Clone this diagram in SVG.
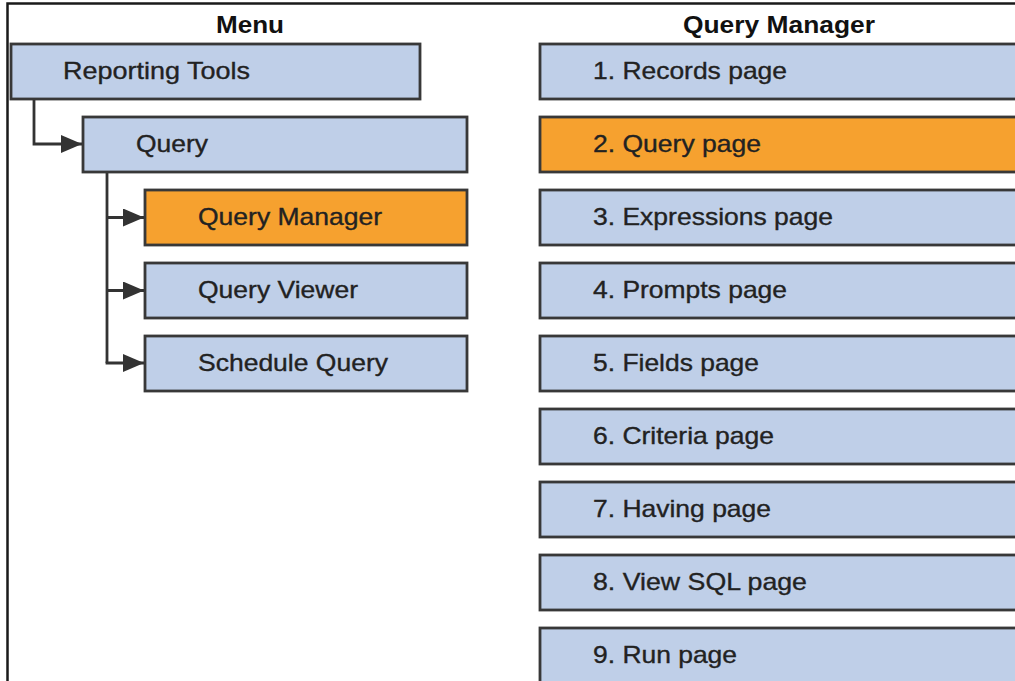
<svg xmlns="http://www.w3.org/2000/svg" width="1015" height="681" viewBox="0 0 1015 681">
<style>
.box{fill:#bfcfe8;stroke:#383838;stroke-width:2.8}
.hl{fill:#f6a12f;stroke:#383838;stroke-width:2.8}
.t{font-family:"Liberation Sans",Arial,sans-serif;font-size:24px;fill:#222;stroke:#222;stroke-width:0.35}
.h{font-family:"Liberation Sans",Arial,sans-serif;font-size:23.5px;font-weight:bold;fill:#111;text-anchor:middle}
.c{fill:none;stroke:#333;stroke-width:2.8}
</style>
<defs>
<marker id="arr" markerUnits="userSpaceOnUse" markerWidth="24" markerHeight="20" refX="21" refY="9" orient="auto">
<path d="M0,0 L21,9 L0,18 z" fill="#333"/>
</marker>
</defs>
<rect width="1015" height="681" fill="#fff"/>
<path d="M7.5,681 V3.5 H1015" fill="none" stroke="#1a1a1a" stroke-width="2.5"/>
<text class="h" x="250" y="33" textLength="68" lengthAdjust="spacingAndGlyphs">Menu</text>
<text class="h" x="779" y="33" textLength="192" lengthAdjust="spacingAndGlyphs">Query Manager</text>
<g id="connectors">
<path class="c" d="M34,100 V144 H82" marker-end="url(#arr)"/>
<path class="c" d="M107,173 V363"/>
<path class="c" d="M107,217.5 H144" marker-end="url(#arr)"/>
<path class="c" d="M107,290.5 H144" marker-end="url(#arr)"/>
<path class="c" d="M105.6,363 H144" marker-end="url(#arr)"/>
</g>
<g id="reporting-tools"><rect class="box" x="11" y="44" width="409" height="55"/><text class="t" x="63" y="79" textLength="187" lengthAdjust="spacingAndGlyphs">Reporting Tools</text></g>
<g id="query"><rect class="box" x="83" y="117" width="384" height="55"/><text class="t" x="136" y="152" textLength="72" lengthAdjust="spacingAndGlyphs">Query</text></g>
<g id="query-manager"><rect class="hl" x="145" y="190" width="322" height="55"/><text class="t" x="198" y="225" textLength="184" lengthAdjust="spacingAndGlyphs">Query Manager</text></g>
<g id="query-viewer"><rect class="box" x="145" y="263" width="322" height="55"/><text class="t" x="198" y="298" textLength="160" lengthAdjust="spacingAndGlyphs">Query Viewer</text></g>
<g id="schedule-query"><rect class="box" x="145" y="336" width="322" height="55"/><text class="t" x="198" y="371" textLength="190" lengthAdjust="spacingAndGlyphs">Schedule Query</text></g>
<g id="records-page"><rect class="box" x="540" y="44" width="500" height="55"/><text class="t" x="593" y="79" textLength="194" lengthAdjust="spacingAndGlyphs">1. Records page</text></g>
<g id="query-page"><rect class="hl" x="540" y="117" width="500" height="55"/><text class="t" x="593" y="152" textLength="168" lengthAdjust="spacingAndGlyphs">2. Query page</text></g>
<g id="expressions-page"><rect class="box" x="540" y="190" width="500" height="55"/><text class="t" x="593" y="225" textLength="240" lengthAdjust="spacingAndGlyphs">3. Expressions page</text></g>
<g id="prompts-page"><rect class="box" x="540" y="263" width="500" height="55"/><text class="t" x="593" y="298" textLength="194" lengthAdjust="spacingAndGlyphs">4. Prompts page</text></g>
<g id="fields-page"><rect class="box" x="540" y="336" width="500" height="55"/><text class="t" x="593" y="371" textLength="166" lengthAdjust="spacingAndGlyphs">5. Fields page</text></g>
<g id="criteria-page"><rect class="box" x="540" y="409" width="500" height="55"/><text class="t" x="593" y="444" textLength="181" lengthAdjust="spacingAndGlyphs">6. Criteria page</text></g>
<g id="having-page"><rect class="box" x="540" y="482" width="500" height="55"/><text class="t" x="593" y="517" textLength="178" lengthAdjust="spacingAndGlyphs">7. Having page</text></g>
<g id="view-sql-page"><rect class="box" x="540" y="555" width="500" height="55"/><text class="t" x="593" y="590" textLength="214" lengthAdjust="spacingAndGlyphs">8. View SQL page</text></g>
<g id="run-page"><rect class="box" x="540" y="628" width="500" height="55"/><text class="t" x="593" y="663" textLength="144" lengthAdjust="spacingAndGlyphs">9. Run page</text></g>
</svg>
